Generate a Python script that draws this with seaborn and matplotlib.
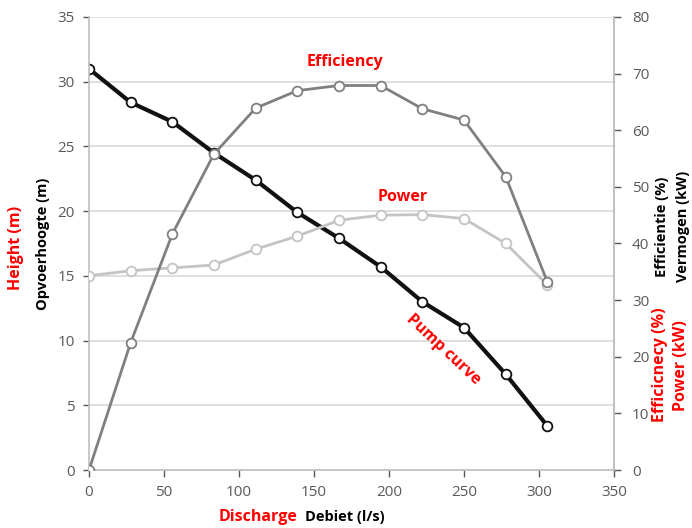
import matplotlib
matplotlib.use("Agg")
import matplotlib.pyplot as plt
import pandas as pd
import seaborn as sns

# discharge points (l/s) = 0..1100 m3/h
debiet = [0, 27.8, 55.6, 83.3, 111.1, 138.9, 166.7, 194.4, 222.2, 250.0, 277.8, 305.6]
# pump curve, head in m (left axis)
opvoerhoogte = [31.0, 28.4, 26.9, 24.5, 22.4, 19.9, 17.9, 15.7, 13.0, 11.0, 7.4, 3.4]
# efficiency in % and power in kW (right axis)
efficientie = [0.0, 22.5, 41.7, 55.8, 63.9, 67.0, 67.9, 67.9, 63.8, 61.8, 51.8, 33.2]
vermogen = [34.3, 35.2, 35.7, 36.2, 39.0, 41.3, 44.1, 45.0, 45.1, 44.4, 40.0, 32.7]

df = pd.DataFrame({
    "debiet": debiet,
    "opvoerhoogte": opvoerhoogte,
    "efficientie": efficientie,
    "vermogen": vermogen,
})

sns.set_style("white")
plt.rcParams["font.family"] = ["Open Sans", "DejaVu Sans"]

TICK_GREY = "#595959"
SPINE_GREY = "#bfbfbf"
RED = "#ff0000"

fig = plt.figure(figsize=(6.92, 5.28), dpi=100)
ax = fig.add_axes([89 / 692, 58 / 528, 525 / 692, 453 / 528])
ax2 = ax.twinx()

marker_kw = dict(marker="o", markersize=7, markerfacecolor="white", markeredgewidth=1.3)

# pump curve
sns.lineplot(data=df, x="debiet", y="opvoerhoogte", ax=ax, color="#111111",
             linewidth=3, markeredgecolor="#111111", **marker_kw)
# efficiency and power on the secondary axis
sns.lineplot(data=df, x="debiet", y="vermogen", ax=ax2, color="#c4c4c4",
             linewidth=2, markeredgecolor="#c4c4c4", **marker_kw)
sns.lineplot(data=df, x="debiet", y="efficientie", ax=ax2, color="#808080",
             linewidth=2, markeredgecolor="#808080", **marker_kw)

ax.set_xlim(0, 350)
ax.set_ylim(0, 35)
ax2.set_ylim(0, 80)
ax.set_xticks(range(0, 351, 50))
ax.set_yticks(range(0, 36, 5))
ax2.set_yticks(range(0, 81, 10))

ax.yaxis.grid(True, color="#d9d9d9", linewidth=1.2)
ax.set_axisbelow(True)
ax2.grid(False)

for a in (ax, ax2):
    a.spines["top"].set_visible(False)
    for side in ("left", "bottom", "right"):
        a.spines[side].set_color(SPINE_GREY)
        a.spines[side].set_linewidth(1.2)
ax2.spines["left"].set_visible(False)
ax2.spines["bottom"].set_visible(False)

ax.tick_params(axis="x", colors=TICK_GREY, labelsize=11, length=5, width=1,
               direction="out", pad=6, bottom=True)
ax.tick_params(axis="y", colors=TICK_GREY, labelsize=11, length=4, width=1,
               direction="out", pad=6, left=True)
ax2.tick_params(axis="y", colors=TICK_GREY, labelsize=11, length=5, width=1,
                direction="out", pad=8, right=True)
for t in ax.xaxis.get_ticklines() + ax.yaxis.get_ticklines() + ax2.yaxis.get_ticklines():
    t.set_color(SPINE_GREY)

ax.set_xlabel("")
ax.set_ylabel("")
ax2.set_ylabel("")

# axis titles (Dutch black, English red)
fig.text(43 / 692, 1 - 244 / 528, "Opvoerhoogte (m)", rotation=90, ha="center",
         va="center", fontsize=10.5, fontweight="bold", color="black")
fig.text(16 / 692, 1 - 248 / 528, "Height (m)", rotation=90, ha="center",
         va="center", fontsize=11.5, fontweight="bold", color=RED)
fig.text(662 / 692, 1 - 227 / 528, "Efficientie (%)", rotation=90, ha="center",
         va="center", fontsize=10.5, fontweight="bold", color="black")
fig.text(683 / 692, 1 - 226 / 528, "Vermogen (kW)", rotation=90, ha="center",
         va="center", fontsize=10.5, fontweight="bold", color="black")
fig.text(660 / 692, 1 - 365 / 528, "Efficicnecy (%)", rotation=90, ha="center",
         va="center", fontsize=11.5, fontweight="bold", color=RED)
fig.text(681 / 692, 1 - 366 / 528, "Power (kW)", rotation=90, ha="center",
         va="center", fontsize=11.5, fontweight="bold", color=RED)
fig.text(298 / 692, 1 - 517 / 528, "Discharge", ha="right", va="center",
         fontsize=11.5, fontweight="bold", color=RED)
fig.text(305 / 692, 1 - 517 / 528, "Debiet (l/s)", ha="left", va="center",
         fontsize=10.5, fontweight="bold", color="black")

# curve labels
fig.text(345 / 692, 1 - 62 / 528, "Efficiency", ha="center", va="center",
         fontsize=11.5, fontweight="bold", color=RED)
fig.text(403 / 692, 1 - 197 / 528, "Power", ha="center", va="center",
         fontsize=11.5, fontweight="bold", color=RED)
fig.text(443 / 692, 1 - 350 / 528, "Pump curve", ha="center", va="center",
         rotation=-43, rotation_mode="anchor", fontsize=11.5, fontweight="bold",
         color=RED)

fig.savefig("out.png", dpi=100)
